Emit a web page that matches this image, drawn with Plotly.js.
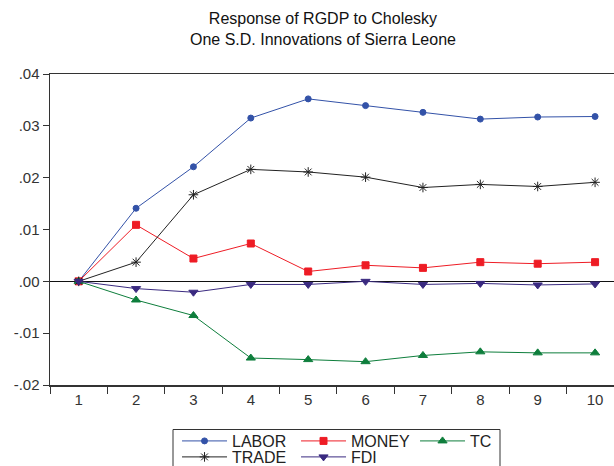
<!DOCTYPE html>
<html>
<head>
<meta charset="utf-8">
<script src="https://cdn.plot.ly/plotly-3.0.1.min.js"></script>
<style>html,body{margin:0;padding:0;background:#fff;}#chart{width:614px;height:466px;}</style>
</head>
<body>
<div id="chart"></div>
<script>
const periods = ['1','2','3','4','5','6','7','8','9','10'];
const labor = [0, 0.0141, 0.0221, 0.0315, 0.0352, 0.0339, 0.0326, 0.0313, 0.0317, 0.0318];
const money = [0, 0.0109, 0.0044, 0.0073, 0.0019, 0.0031, 0.0026, 0.0037, 0.0034, 0.0037];
const tc    = [0, -0.0036, -0.0066, -0.0148, -0.0151, -0.0155, -0.0143, -0.0136, -0.0138, -0.0138];
const trade = [0, 0.0037, 0.0167, 0.0216, 0.0211, 0.0201, 0.0181, 0.0187, 0.0183, 0.0191];
const fdi   = [0, -0.0014, -0.0021, -0.0006, -0.0006, 0.0000, -0.0006, -0.0004, -0.0007, -0.0005];
const yTickVals = [-0.02, -0.01, 0, 0.01, 0.02, 0.03, 0.04];
const yTickText = ['-.02', '-.01', '.00', '.01', '.02', '.03', '.04'];

function tr(name, y, color, symbol, size, leg) {
  return {x: periods, y: y, name: name, type: 'scatter', mode: 'lines+markers', legend: leg,
    line: {color: color, width: 1}, marker: {color: color, symbol: symbol, size: size,
    line: {color: color, width: 1}}};
}
const data = [
  tr('LABOR', labor, '#3352a8', 'circle', 6, 'legend'),
  tr('MONEY', money, '#ee1c25', 'square', 7, 'legend'),
  tr('TC', tc, '#0e7e3c', 'triangle-up', 8, 'legend'),
  tr('TRADE', trade, '#222222', 'asterisk-open', 8, 'legend2'),
  tr('FDI', fdi, '#3a2a80', 'triangle-down', 8, 'legend2')
];
const legendCommon = {orientation: 'h', xref: 'container', yref: 'container', x: 0.2883,
  xanchor: 'left', yanchor: 'top', borderwidth: 0, bgcolor: 'rgba(0,0,0,0)', itemwidth: 45,
  font: {size: 16, color: '#222'}, entrywidth: 59, entrywidthmode: 'pixels', traceorder: 'normal'};
const layout = {
  width: 614, height: 466,
  margin: {l: 50, r: 0, t: 74, b: 81},
  paper_bgcolor: '#fff', plot_bgcolor: '#fff',
  font: {family: 'Liberation Sans, Arial, sans-serif', color: '#333', size: 14},
  title: {text: 'Response of RGDP to Cholesky<br>One S.D. Innovations of Sierra Leone',
    font: {size: 16, color: '#111'}, x: 0.526, xanchor: 'center', y: 0.948, yanchor: 'top'},
  xaxis: {type: 'category', range: [-0.5, 9.33], showgrid: false, zeroline: false,
    showline: true, linecolor: '#333', linewidth: 1.5, mirror: true,
    ticks: 'outside', tickson: 'boundaries', ticklen: 7, tickcolor: '#333',
    tickfont: {size: 15}},
  yaxis: {range: [-0.02, 0.04], showgrid: false, zeroline: true, zerolinecolor: '#111', zerolinewidth: 1,
    showline: true, linecolor: '#333', linewidth: 1.5,
    ticks: 'outside', ticklen: 6, tickcolor: '#333',
    tickmode: 'array', tickvals: yTickVals, ticktext: yTickText, tickfont: {size: 15}},
  showlegend: true,
  legend: Object.assign({}, legendCommon, {y: 0.0901}),
  legend2: Object.assign({}, legendCommon, {y: 0.0558}),
  shapes: [{type: 'rect', xref: 'paper', yref: 'paper', x0: 0.2181, x1: 0.7979, y0: -0.1431, y1: -0.30,
    line: {color: '#333', width: 1}, fillcolor: 'rgba(0,0,0,0)', layer: 'below'}]
};
Plotly.newPlot('chart', data, layout, {displayModeBar: false, staticPlot: true});
</script>
</body>
</html>
